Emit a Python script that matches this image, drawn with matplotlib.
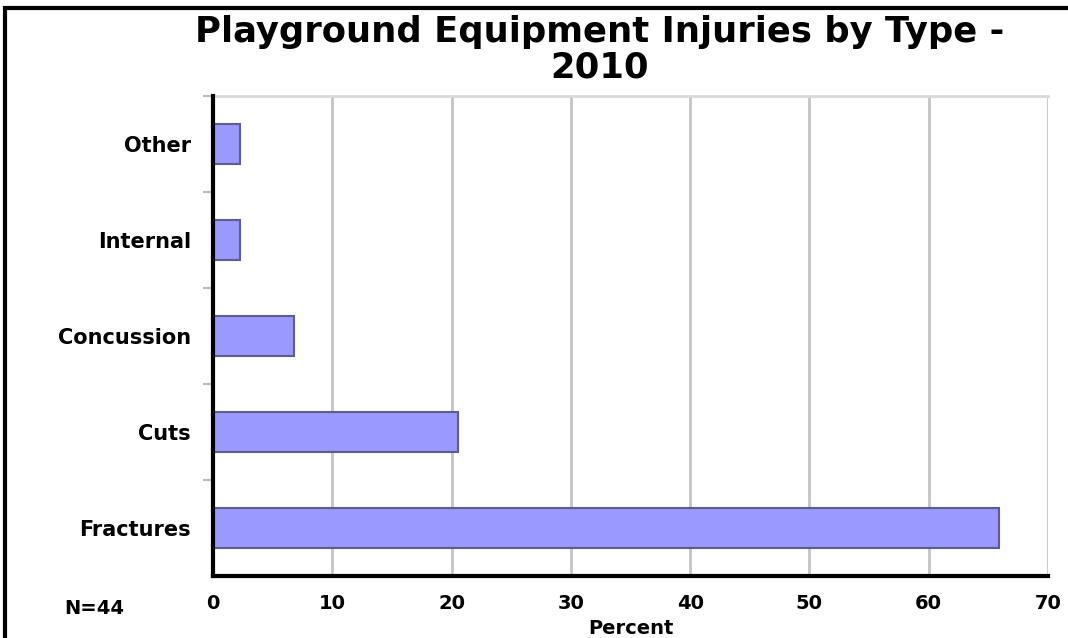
import matplotlib
matplotlib.use("Agg")
from matplotlib import pyplot as plt
from matplotlib.patches import Rectangle

categories = ["Fractures", "Cuts", "Concussion", "Internal", "Other"]
percents = [65.9, 20.5, 6.8, 2.3, 2.3]
xticks = [0, 10, 20, 30, 40, 50, 60, 70]
title = "Playground Equipment Injuries by Type -\n2010"
note = "N=44"

W, H = 1068, 638
fig = plt.figure(figsize=(W / 100, H / 100), dpi=100)
fig.patch.set_facecolor("white")

# outer frame (only top/left visible in the reference)
fig.patches.append(Rectangle((5 / W, -0.1), 1.2, (H - 8) / H + 0.1,
                             transform=fig.transFigure, fill=False,
                             edgecolor="black", linewidth=3))

ax = fig.add_axes([213 / W, 1 - 576 / H, (1048 - 213) / W, (576 - 96) / H])
ypos = list(range(len(categories)))
ax.barh(ypos, percents, height=0.42, color="#9999ff",
        edgecolor="#5c5c9c", linewidth=1.5, zorder=3)

ax.set_xlim(0, 70)
ax.set_ylim(-0.5, len(categories) - 0.5)
ax.set_xticks(xticks)
ax.set_xticklabels([str(t) for t in xticks], fontsize=14, fontweight="bold",
                   family="DejaVu Sans")
ax.set_yticks(ypos)
ax.set_yticklabels(categories, fontsize=15, fontweight="bold",
                   family="DejaVu Sans")
ax.tick_params(axis="y", length=0, pad=16)
ax.tick_params(axis="x", length=0, pad=13)
# minor ticks between categories
ax.set_yticks([y + 0.5 for y in ypos], minor=True)
ax.tick_params(axis="y", which="minor", length=7, color="#bbbbbb", width=1.5)

ax.grid(axis="x", color="#c4c4c4", linewidth=2, zorder=0)
for side in ("left", "bottom"):
    ax.spines[side].set_linewidth(3)
    ax.spines[side].set_color("black")
    ax.spines[side].set_zorder(4)
ax.spines["top"].set_color("#d9d9d9")
ax.spines["top"].set_linewidth(2)
ax.spines["right"].set_visible(False)

ax.set_xlabel("Percent", fontsize=14, fontweight="bold", family="DejaVu Sans",
              labelpad=4)

fig.text(600 / W, 1 - 50 / H, title, ha="center", va="center",
         fontsize=25.5, fontweight="bold", family="DejaVu Sans",
         linespacing=1.05)
fig.text(94 / W, 1 - 608 / H, note, ha="center", va="center",
         fontsize=14, fontweight="bold", family="DejaVu Sans")

fig.savefig("out.png", dpi=100)
